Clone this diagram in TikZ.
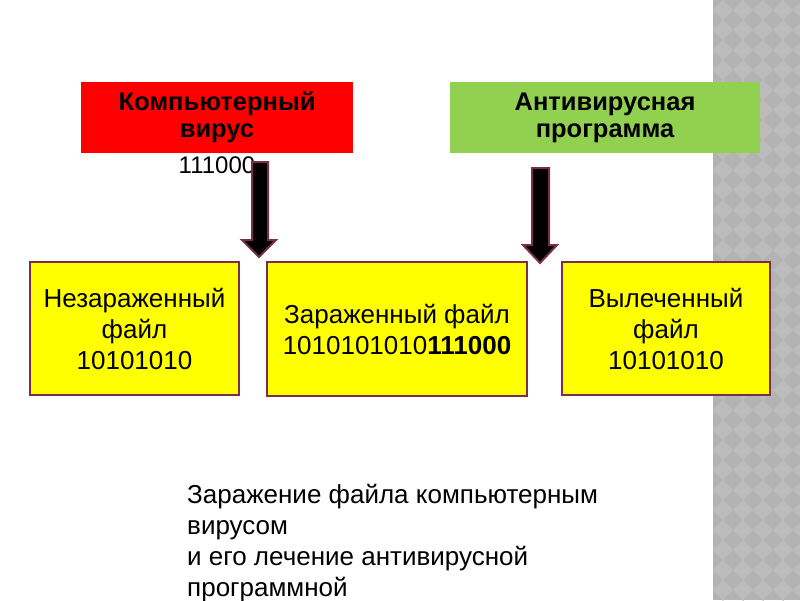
\documentclass[tikz,border=0pt]{standalone}
\usepackage{fontspec}
\setmainfont{Liberation Sans}
\definecolor{boxred}{HTML}{FF0000}
\definecolor{boxgreen}{HTML}{92D050}
\definecolor{boxyellow}{HTML}{FFFF00}
\definecolor{maroon}{HTML}{7A2E4C}
\definecolor{paneldark}{HTML}{B3B3B3}
\definecolor{panellight}{HTML}{BCBCBC}
\tikzset{
  topbox/.style={inner sep=0pt, align=center, font=\fontsize{25.5}{27}\selectfont\bfseries},
  filebox/.style={draw=maroon, line width=2.2pt, fill=boxyellow, inner sep=0pt, align=center, font=\fontsize{26}{31}\selectfont},
  blockarrow/.style={fill=black, draw=maroon, line width=2pt, line join=miter},
  plain/.style={inner sep=0pt, font=\fontsize{26}{31}\selectfont}
}
\begin{document}
\begin{tikzpicture}[x=1pt,y=-1pt]
\useasboundingbox (0,0) rectangle (800,600);
\fill[white] (0,0) rectangle (800,600);
% gray side panel
\fill[paneldark] (713,0) rectangle (800,600);
\begin{scope}
\clip (713,0) rectangle (800,600);
\foreach \i in {0,...,5}{
  \foreach \j in {0,...,30}{
    \fill[panellight] ({713+20*\i+10},{20*\j}) -- ({713+20*\i+20},{20*\j+10}) -- ({713+20*\i+10},{20*\j+20}) -- ({713+20*\i},{20*\j+10}) -- cycle;
  }
}
\end{scope}
% top boxes
\node[topbox, fill=boxred, minimum width=272pt, minimum height=71pt] (virus) at (217,117.5) {Компьютерный\\вирус};
\node[topbox, fill=boxgreen, minimum width=310pt, minimum height=71pt] (antivirus) at (605,117.5) {Антивирусная\\программа};
\node[inner sep=0pt, anchor=base, font=\fontsize{24}{26}\selectfont] (code) at (217,173) {111000};
% file boxes
\node[filebox, minimum width=209pt, minimum height=133pt] (clean) at (134.5,328.5) {Незараженный\\файл\\10101010};
\node[filebox, minimum width=260pt, minimum height=134pt] (infected) at (397,329) {Зараженный файл\\1010101010\textbf{111000}};
\node[filebox, minimum width=208pt, minimum height=133pt] (cured) at (666,328.5) {Вылеченный\\файл\\10101010};
% block arrows
\coordinate (a1top) at (260,162);
\coordinate (a2top) at (540.5,168);
\draw[blockarrow] (252,162) -- (268,162) -- (268,240) -- (276,240) -- (259,257) -- (242,240) -- (252,240) -- cycle;
\draw[blockarrow] (532,168) -- (549,168) -- (549,245) -- (557,245) -- (540,263) -- (523,245) -- (532,245) -- cycle;
% caption
\node[plain, anchor=north west, align=left] (caption) at (187,484) {Заражение файла компьютерным\\вирусом\\и его лечение антивирусной\\программной};
\end{tikzpicture}
\end{document}
